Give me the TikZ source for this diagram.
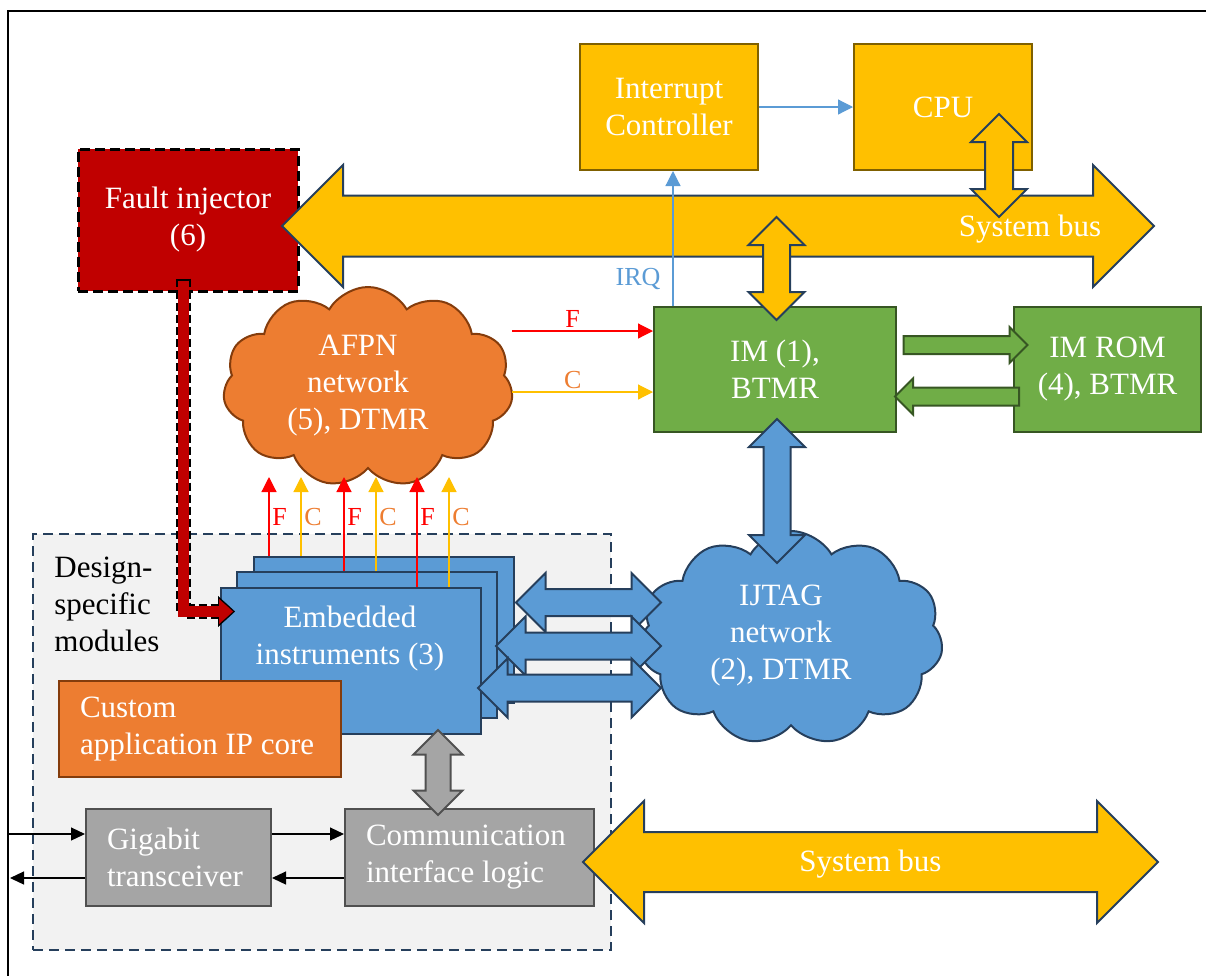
\documentclass[tikz,border=0pt]{standalone}
\usepackage{fontspec}
\setmainfont{Liberation Serif}
\usetikzlibrary{shapes.arrows,shapes.symbols,arrows.meta,calc}

\definecolor{busyellow}{HTML}{FFC000}
\definecolor{goldline}{HTML}{7F6000}
\definecolor{navyline}{HTML}{263F5C}
\definecolor{imgreen}{HTML}{70AD47}
\definecolor{greenline}{HTML}{375623}
\definecolor{eiblue}{HTML}{5B9BD5}
\definecolor{afpnorange}{HTML}{ED7D31}
\definecolor{brownline}{HTML}{843C0C}
\definecolor{modgray}{HTML}{A5A5A5}
\definecolor{grayline}{HTML}{505050}
\definecolor{faultred}{HTML}{C00000}
\definecolor{modbg}{HTML}{F2F2F2}
\definecolor{sigred}{HTML}{FF0000}

\newcommand{\diafont}{\fontsize{15.5}{18.5}\selectfont}
\newcommand{\lblfont}{\fontsize{13}{15}\selectfont}

\begin{document}
\begin{tikzpicture}[x=0.5pt, y=-0.5pt,
  box/.style={draw, line width=1pt, align=center, text=white, font=\diafont, inner sep=0pt},
  ybox/.style={box, fill=busyellow, draw=goldline, minimum width=89pt, minimum height=63pt},
  gbox/.style={box, fill=imgreen, draw=greenline, minimum height=62.5pt},
  eibox/.style={box, fill=eiblue, draw=navyline, minimum width=130pt, minimum height=73pt},
  graybox/.style={box, fill=modgray, draw=grayline, minimum height=48.5pt, align=flush left, inner xsep=10.5pt},
  netcloud/.style={cloud, cloud puffs=11, cloud puff arc=120, draw, line width=1pt, inner sep=0pt},
  wtext/.style={text=white, font=\diafont, align=center, inner sep=0pt},
  bus/.style={double arrow, double arrow head extend=15.25pt, inner xsep=0pt, inner ysep=14.75pt, fill=busyellow, draw=navyline, line width=1pt},
  link/.style={double arrow, draw=navyline, line width=1pt, inner xsep=0pt},
  grarrow/.style={single arrow, single arrow head extend=4.5pt, inner xsep=0pt, inner ysep=4pt, minimum height=62pt, fill=imgreen, draw=greenline, line width=1pt},
  sig/.style={line width=0.6pt, -{Triangle[length=7pt,width=6.5pt]}},
  irqline/.style={sig, draw=eiblue, -{Triangle[length=7.5pt,width=7.5pt]}},
  fline/.style={sig, draw=sigred, -{Triangle[length=7.5pt,width=7.5pt]}},
  cline/.style={sig, draw=busyellow, -{Triangle[length=7.5pt,width=7.5pt]}},
  flabel/.style={text=sigred, font=\lblfont, inner sep=1.5pt},
  clabel/.style={text=afpnorange, font=\lblfont, inner sep=1.5pt}
]
\useasboundingbox (0,0) rectangle (1206,976);

% frame
\draw[line width=1pt] (1206,11) -- (8,11) -- (8,976);

% design-specific modules
\node[draw=navyline, fill=modbg, line width=1.4pt, dash pattern=on 5pt off 3pt, minimum width=289pt, minimum height=208pt] (dsm) at (322,742) {};
\node[font=\diafont, align=left, anchor=west, inner sep=0pt] (dsmlabel) at (54,604) {Design-\\specific\\modules};

% fault injector and system bus
\node[box, fill=faultred, draw=black, line width=1.5pt, dash pattern=on 5pt off 2.5pt, minimum width=110pt, minimum height=71pt] (fi) at (188,220) {Fault injector\\(6)};
\node[bus, minimum height=436pt] (sysbus) at (718,226) {};
\node[wtext] (sysbuslabel) at ($(sysbus.center)+(312,3)$) {System bus};

% processor side
\node[ybox] (ic) at (669,107) {Interrupt\\Controller};
\node[ybox] (cpu) at (943,107) {CPU};
\node[gbox, minimum width=121pt] (im) at (775,369.5) {IM (1),\\BTMR};
\node[gbox, minimum width=93.5pt] (rom) at (1107.5,369.5) {IM ROM\\(4), BTMR};

% networks
\node[netcloud, fill=afpnorange, draw=brownline, minimum width=145pt, minimum height=100pt] (afpn) at (368,387) {};
\node[wtext] (afpnlabel) at ($(afpn.center)+(-10,-1)$) {AFPN\\network\\(5), DTMR};
\node[netcloud, fill=eiblue, draw=navyline, minimum width=152pt, minimum height=107pt] (ijtag) at (791,638) {};
\node[wtext] (ijtaglabel) at ($(ijtag.center)+(-10,-2)$) {IJTAG\\network\\(2), DTMR};

% embedded instruments
\node[eibox] (ei3) at (384,630) {};
\node[eibox] (ei2) at (367,645) {};
\node[eibox] (ei1) at (351,661) {};
\node[wtext] (eilabel) at ($(ei1.center)+(-1,-22)$) {Embedded\\instruments (3)};
\node[box, fill=afpnorange, draw=brownline, minimum height=48pt, align=flush left, inner xsep=10.5pt, text width=120pt] (cip) at (200,729) {Custom\\application IP core};

% communication
\node[graybox, text width=71.5pt] (gig) at (178.5,857.5) {Gigabit\\transceiver};
\node[graybox, text width=103.5pt] (comm) at (469.5,857.5) {Communication\\interface logic};
\node[bus, minimum height=287.5pt, inner ysep=14.5pt, double arrow head extend=15.5pt] (sysbus2) at (870.5,862) {};
\node[wtext] (sysbus2label) at ($(sysbus2.center)+(0,2)$) {System bus};

% thin signals
\draw[irqline] (ic.east) -- (ic.east -| cpu.west);
\coordinate (irq) at ($(im.north west)+(20,0)$);
\draw[irqline] (irq) -- (irq |- ic.south) node[pos=0.2, left=6pt, text=eiblue, font=\lblfont, inner sep=0pt] {IRQ};

\coordinate (fin) at ($(im.north west)+(0,25)$);
\coordinate (cin) at ($(im.north west)+(0,86)$);
\draw[fline] (fin -| afpn.east) -- (fin) node[flabel, above, pos=0.43] {F};
\draw[cline] (cin -| afpn.east) -- (cin) node[clabel, above, pos=0.43] {C};

\coordinate (fctop) at (0,477);
\coordinate (fclab) at (0,517);
\foreach \b/\dx in {ei3/16, ei2/108, ei1/197} {
  \draw[fline] ($(\b.north west)+(\dx,0)$) coordinate (s) -- (s |- fctop);
  \node[flabel, anchor=west] at (s |- fclab) {F};
  \draw[cline] ($(\b.north west)+(\dx+32,0)$) coordinate (s) -- (s |- fctop);
  \node[clabel, anchor=west] at (s |- fclab) {C};
}

\coordinate (gin) at ($(gig.north west)+(0,26)$);
\coordinate (gout) at ($(gig.south west)+(0,-29)$);
\coordinate (edge) at (8,0);
\draw[sig] (edge |- gin) -- (gin);
\draw[sig] (gout) -- ($(edge |- gout)+(2,0)$);
\draw[sig] (gin -| gig.east) -- (gin -| comm.west);
\draw[sig] (gout -| comm.west) -- (gout -| gig.east);

% block connectors
\node[link, fill=busyellow, rotate=90, minimum height=51.5pt, inner ysep=6.5pt, double arrow head extend=7pt] (cpubus) at ($(cpu.south)+(56,-5.5)$) {};
\node[link, fill=busyellow, rotate=90, minimum height=51.5pt, inner ysep=6.25pt, double arrow head extend=7.25pt] (imbus) at ($(im.north)+(1.5,-37.5)$) {};
\node[link, fill=eiblue, rotate=90, minimum height=72pt, inner ysep=6.25pt, double arrow head extend=7.25pt] (imij) at ($(im.south)+(2,58)$) {};
\node[link, fill=modgray, draw=grayline, rotate=90, minimum height=42.5pt, inner ysep=5.75pt, double arrow head extend=6pt] (eicomm) at ($(comm.north)+(-31.5,-35.5)$) {};
\node[link, fill=eiblue, minimum height=72.5pt, inner ysep=6.25pt, double arrow head extend=8pt] (h1) at ($(ei3.east)+(73.5,-27.5)$) {};
\node[link, fill=eiblue, minimum height=82.5pt, inner ysep=6.25pt, double arrow head extend=8pt] (h2) at ($(ei2.east)+(80.5,1)$) {};
\node[link, fill=eiblue, minimum height=91.5pt, inner ysep=6.25pt, double arrow head extend=8pt] (h3) at ($(ei1.east)+(87.5,27)$) {};
\node[grarrow] (g1) at ($(im.north east)+(64,39)$) {};
\node[grarrow, shape border rotate=180] (g2) at ($(im.north east)+(64.5,90.5)$) {};

% fault path
\draw[line width=7.5pt, dash pattern=on 4pt off 2pt, -{Triangle[length=8.5pt,width=15.5pt,line width=0.1pt]}] ($(fi.south)+(-4.5,-14)$) |- ($(ei1.north west)+(15,24.5)$);
\draw[line width=5.5pt, draw=faultred, -{Triangle[length=7pt,width=12.5pt,line width=0.1pt]}, shorten >=1pt] ($(fi.south)+(-4.5,-12)$) |- ($(ei1.north west)+(15,24.5)$);

\end{tikzpicture}
\end{document}
